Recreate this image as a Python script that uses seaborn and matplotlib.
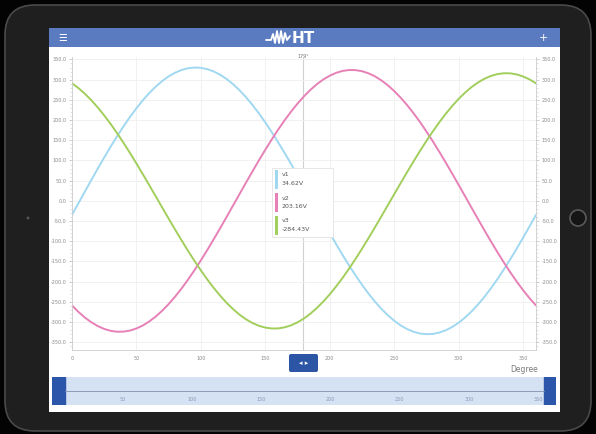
import pandas as pd
import matplotlib
matplotlib.use('Agg')
import matplotlib.pyplot as plt
from matplotlib.patches import Rectangle, FancyBboxPatch, Circle
from matplotlib.ticker import MultipleLocator, FormatStrFormatter
import seaborn as sns

# Valores (cada 5 grados, 0..360)
degrees = list(range(0, 361, 5))
v1 = [-34.5, -5.8, 23.0, 51.6, 79.8, 107.4, 134.2, 160.0, 184.5, 207.7,
      229.2, 249.1, 267.0, 282.9, 296.6, 308.1, 317.2, 323.9, 328.2, 329.9,
      329.2, 325.9, 320.2, 312.0, 301.5, 288.6, 273.6, 256.5, 237.4, 216.5,
      194.0, 170.0, 144.7, 118.3, 91.0, 63.0, 34.5, 5.8, -23.0, -51.6,
      -79.8, -107.4, -134.2, -160.0, -184.5, -207.7, -229.2, -249.1, -267.0, -282.9,
      -296.6, -308.1, -317.2, -323.9, -328.2, -329.9, -329.2, -325.9, -320.2, -312.0,
      -301.5, -288.6, -273.6, -256.5, -237.4, -216.5, -194.0, -170.0, -144.7, -118.3,
      -91.0, -63.0, -34.5]
v2 = [-258.8, -274.8, -288.7, -300.4, -309.8, -316.9, -321.6, -323.8, -323.5, -320.9,
      -315.7, -308.2, -298.2, -286.1, -271.7, -255.3, -237.0, -216.8, -195.0, -171.7,
      -147.1, -121.4, -94.7, -67.4, -39.5, -11.3, 17.0, 45.1, 72.9, 100.1,
      126.6, 152.1, 176.5, 199.5, 221.0, 240.8, 258.8, 274.8, 288.7, 300.4,
      309.8, 316.9, 321.6, 323.8, 323.5, 320.9, 315.7, 308.2, 298.2, 286.1,
      271.7, 255.3, 237.0, 216.8, 195.0, 171.7, 147.1, 121.4, 94.7, 67.4,
      39.5, 11.3, -17.0, -45.1, -72.9, -100.1, -126.6, -152.1, -176.5, -199.5,
      -221.0, -240.8, -258.8]
v3 = [290.9, 279.0, 265.0, 249.0, 231.1, 211.4, 190.2, 167.5, 143.5, 118.4,
      92.4, 65.7, 38.5, 11.0, -16.5, -44.0, -71.1, -97.6, -123.5, -148.4,
      -172.1, -194.6, -215.5, -234.8, -252.4, -268.0, -281.6, -293.0, -302.2, -309.1,
      -313.6, -315.8, -315.6, -312.9, -307.9, -300.5, -290.9, -279.0, -265.0, -249.0,
      -231.1, -211.4, -190.2, -167.5, -143.5, -118.4, -92.4, -65.7, -38.5, -11.0,
      16.5, 44.0, 71.1, 97.6, 123.5, 148.4, 172.1, 194.6, 215.5, 234.8,
      252.4, 268.0, 281.6, 293.0, 302.2, 309.1, 313.6, 315.8, 315.6, 312.9,
      307.9, 300.5, 290.9]

fases = ['v1', 'v2', 'v3']
lecturas = ['34.62V', '203.16V', '-284.43V']
colores = {'v1': '#a0d8f1', 'v2': '#e680b6', 'v3': '#a2ce5c'}
cursor_deg = 179.5
cursor_txt = '179°'
nav_ticks = [50, 100, 150, 200, 250, 300, 350]

df = pd.DataFrame({
    'deg': degrees * 3,
    'volt': v1 + v2 + v3,
    'fase': ['v1'] * len(v1) + ['v2'] * len(v2) + ['v3'] * len(v3),
})

sns.set_style('white')
W, H = 596, 434
fig = plt.figure(figsize=(W / 100, H / 100), dpi=100, facecolor='#030303')

# Fondo: tablet + pantalla (coordenadas en pixeles)
bg = fig.add_axes([0, 0, 1, 1])
bg.set_xlim(0, W)
bg.set_ylim(H, 0)
bg.axis('off')
bg.add_patch(FancyBboxPatch((5, 5), 586, 426, boxstyle='round,pad=0,rounding_size=30',
                            fc='#1f1f1f', ec='#4a4a4a', lw=1.2))
bg.add_patch(Rectangle((49, 28), 511, 384, fc='white', ec='none'))
bg.add_patch(Rectangle((49, 28), 511, 19, fc='#5b7bc1', ec='none'))
bg.add_patch(Circle((28, 218), 1.5, fc='#555555', ec='none'))
bg.add_patch(Circle((578, 218), 8, fc='#151515', ec='#5a5a5a', lw=1.2))
bg.text(63, 38, '☰', color='white', fontsize=7, ha='center', va='center')
bg.text(543, 38, '+', color='white', fontsize=8, ha='center', va='center')
# logo
bg.plot([266, 271, 273, 275, 277, 279, 281, 283, 285, 287, 290],
        [40, 40, 34, 43, 31, 43, 31, 43, 33, 40, 36], color='white', lw=1.3)
bg.text(303, 38.5, 'HT', color='white', fontsize=11, fontweight='bold',
        ha='center', va='center')

# Gráfico principal
ax = fig.add_axes([72 / W, 1 - 350 / H, 464 / W, 293 / H])
ax.set_facecolor('white')
sns.lineplot(data=df, x='deg', y='volt', hue='fase', palette=colores,
             linewidth=1.4, legend=False, ax=ax)
ax.set_xlim(0, 360)
ax.set_ylim(-369, 356)
ax.set_xlabel('')
ax.set_ylabel('')
ax.yaxis.set_major_locator(MultipleLocator(50))
ax.yaxis.set_minor_locator(MultipleLocator(10))
ax.xaxis.set_major_locator(MultipleLocator(50))
ax.xaxis.set_minor_locator(MultipleLocator(10))
ax.yaxis.set_major_formatter(FormatStrFormatter('%.1f'))
ax.grid(True, which='major', color='#efefef', lw=0.6)
ax.tick_params(which='major', length=2.5, width=0.5, color='#bbbbbb',
               labelsize=3.5, labelcolor='#8a8a8a', pad=1.5)
ax.tick_params(which='minor', length=1.2, width=0.4, color='#cccccc')
for s in ['left', 'bottom', 'right']:
    ax.spines[s].set_color('#cccccc')
    ax.spines[s].set_linewidth(0.6)
ax.spines['top'].set_visible(False)
ax.axvline(cursor_deg, color='#d0d0d0', lw=0.8, zorder=0)
ax.text(cursor_deg, 1.0, cursor_txt, transform=ax.get_xaxis_transform(),
        ha='center', va='center', fontsize=3.5, color='#777777')

ax2 = ax.twinx()
ax2.set_ylim(ax.get_ylim())
ax2.yaxis.set_major_locator(MultipleLocator(50))
ax2.yaxis.set_minor_locator(MultipleLocator(10))
ax2.yaxis.set_major_formatter(FormatStrFormatter('%.1f'))
ax2.tick_params(which='major', length=2.5, width=0.5, color='#bbbbbb',
                labelsize=3.5, labelcolor='#8a8a8a', pad=1.5)
ax2.tick_params(which='minor', length=1.2, width=0.4, color='#cccccc')
for s in ax2.spines.values():
    s.set_visible(False)

# Navegador inferior
nav = fig.add_axes([52 / W, 1 - 405 / H, 504 / W, 28 / H])
nav.set_facecolor('#d5e2f4')
nav.set_xlim(-1.3, 363)
nav.set_ylim(0, 1)
nav.axvspan(-1.3, 8, color='#2c56a9')
nav.axvspan(354.6, 363, color='#2c56a9')
nav.set_yticks([])
nav.set_xticks(nav_ticks)
nav.xaxis.set_minor_locator(MultipleLocator(10))
for s in ['top', 'left', 'right']:
    nav.spines[s].set_visible(False)
nav.spines['bottom'].set_position(('axes', 0.5))
nav.spines['bottom'].set_color('#7f8fae')
nav.spines['bottom'].set_linewidth(0.6)
nav.spines['bottom'].set_bounds(8, 354.6)
nav.tick_params(axis='x', which='major', direction='inout', length=2.5, width=0.5,
                color='#7f8fae', labelsize=3.5, labelcolor='#8a98b5', pad=3)
nav.tick_params(axis='x', which='minor', direction='inout', length=1.5, width=0.4,
                color='#7f8fae')

# Capa superior: leyenda, botón y etiqueta del eje
ov = fig.add_axes([0, 0, 1, 1], facecolor='none')
ov.set_xlim(0, W)
ov.set_ylim(H, 0)
ov.axis('off')
ov.add_patch(Rectangle((272, 168), 61, 69, fc='white', ec='#e3e3e3', lw=0.6))
for i, (f, lec) in enumerate(zip(fases, lecturas)):
    y0 = 170 + i * 23
    ov.add_patch(Rectangle((274.5, y0), 3, 19, fc=colores[f], ec='none'))
    ov.text(282, y0 + 5, f, fontsize=4.5, color='#555555', va='center')
    ov.text(282, y0 + 13.5, lec, fontsize=4.5, color='#555555', va='center')
ov.add_patch(FancyBboxPatch((289, 354), 29, 18, boxstyle='round,pad=0,rounding_size=2',
                            fc='#2d55a5', ec='none'))
ov.text(303.5, 363, '◂ ▸', color='white', fontsize=5, ha='center', va='center')
ov.text(538, 369, 'Degree', color='#7a7a7a', fontsize=5.5, ha='right', va='center')

fig.savefig('out.png', dpi=100, facecolor=fig.get_facecolor())
